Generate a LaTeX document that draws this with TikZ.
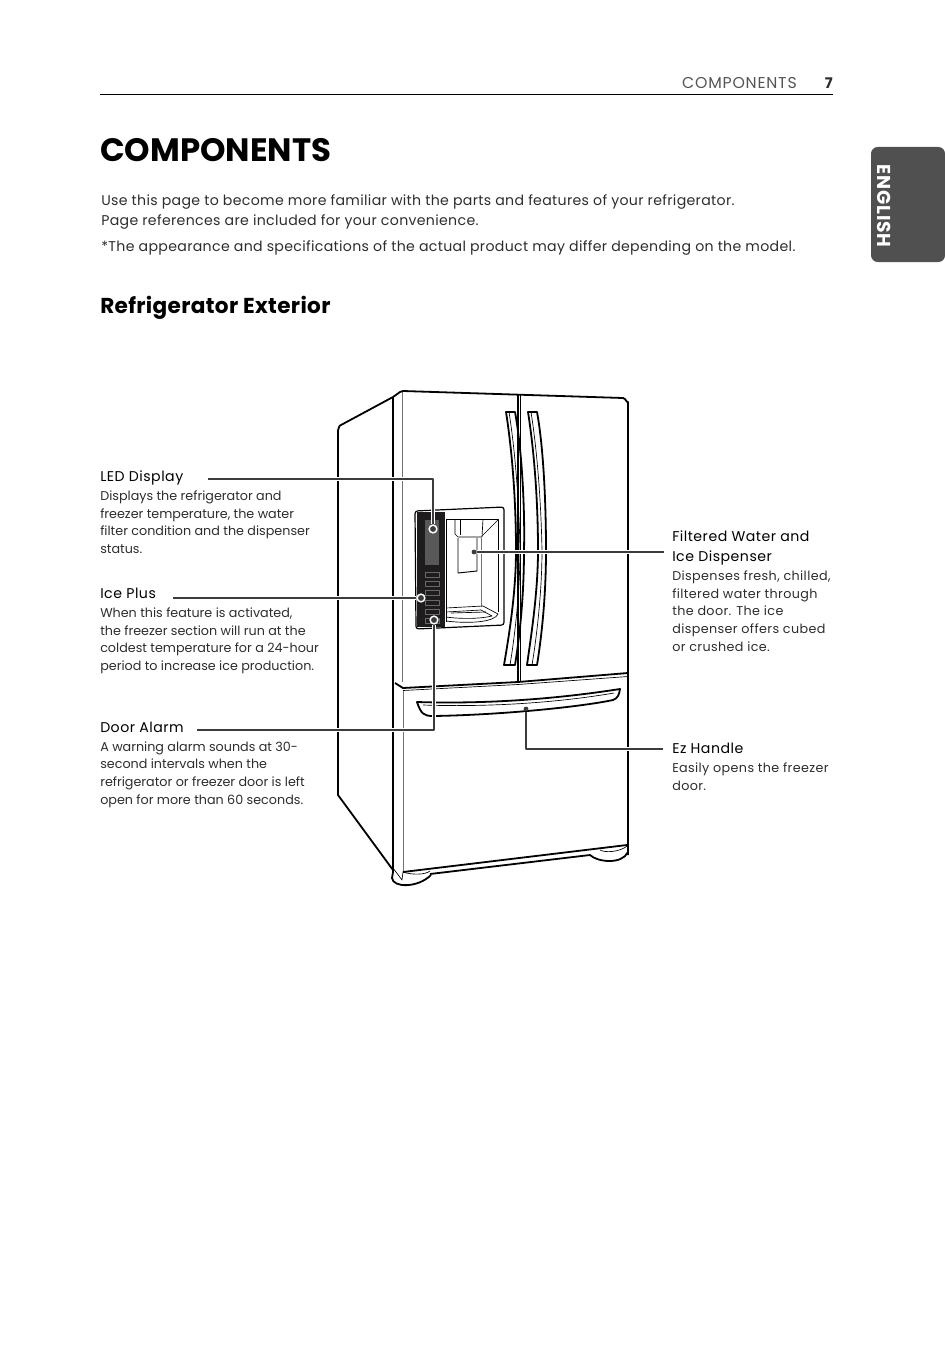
\documentclass[tikz,border=0pt]{standalone}
\usepackage{fontspec}
\setmainfont{Poppins}
\usepackage{tikz}
\usetikzlibrary{positioning,calc}
\definecolor{lggray}{RGB}{85,85,85}
\definecolor{lgtab}{RGB}{80,80,80}
\definecolor{lgtext}{RGB}{45,45,45}
\definecolor{lgleader}{RGB}{60,60,60}
\definecolor{lgpanel}{RGB}{30,28,28}
\definecolor{lgscreen}{RGB}{88,88,88}
\definecolor{lgkey}{RGB}{105,105,105}

\begin{document}
\begin{tikzpicture}[
  x=0.75pt, y=-0.75pt,
  line join=round,
  bodytext/.style={anchor=base west, inner sep=0pt, font=\fontsize{10.6}{15}\selectfont\addfontfeature{LetterSpace=2.3}, text=lgtext},
  calltitle/.style={anchor=base west, inner sep=0pt, font=\fontsize{10.6}{15}\selectfont\addfontfeature{LetterSpace=3.5}, text=black},
  calltext/.style={anchor=north west, inner sep=0pt, align=left, font=\fontsize{9.55}{13.25}\selectfont, text=lgtext},
  calltextwide/.style={calltext, font=\fontsize{9.55}{13.25}\selectfont\addfontfeature{LetterSpace=3}},
  outline/.style={draw=black, line width=1.35pt},
  thinline/.style={draw=black, line width=0.5pt},
  grayline/.style={draw=black!55, line width=0.6pt},
  leader/.style={draw=lgleader, line width=1pt, preaction={draw=white, line width=2.6pt}},
  spotring/.style={circle, draw=white, line width=1.1pt, fill=lgleader, minimum size=5.8pt, inner sep=0pt},
  spotdot/.style={circle, fill=lgleader, minimum size=3.6pt, inner sep=0pt},
  keybox/.style={draw=lgkey, line width=0.5pt}
]
\useasboundingbox (0,0) rectangle (945,1359);

% Page header
\draw[line width=0.6pt] (100,94) -- (833,94);
\node[anchor=base east, inner sep=0pt, font=\fontsize{11.8}{14}\selectfont\addfontfeature{LetterSpace=5}, text=lggray] (runhead) at (797,89) {COMPONENTS};
\node[anchor=base east, inner sep=0pt, font=\fontsize{11}{14}\selectfont\bfseries, text=lgtext] (pagenum) at (833,89) {7};

% Language tab
\fill[lgtab, rounded corners=5pt] (945,147) -- (871,147) -- (871,262) -- (945,262) -- cycle;
\node[rotate=-90, inner sep=0pt, font=\fontsize{14}{15}\selectfont\bfseries\addfontfeature{LetterSpace=4}, text=white] (langtab) at (884,206) {ENGLISH};

% Headings and intro
\node[anchor=base west, inner sep=0pt, font=\fontsize{24.3}{26}\selectfont\bfseries] (mainhead) at (100,161.5) {COMPONENTS};
\node[bodytext] (intro1) at (101,205.5) {Use this page to become more familiar with the parts and features of your refrigerator.};
\node[bodytext] (intro2) at (101,225.5) {Page references are included for your convenience.};
\node[bodytext] (intro3) at (101,251.5) {*The appearance and specifications of the actual product may differ depending on the model.};
\node[anchor=base west, inner sep=0pt, font=\fontsize{16.2}{18}\selectfont\bfseries\addfontfeature{LetterSpace=1.5}] (subhead) at (100,313) {Refrigerator Exterior};

% Cabinet side
\draw[outline] (393,397) -- (341,425) to[out=160,in=-90] (338,430) -- (338,795) -- (393,870);
\draw[outline] (393,397) -- (393,872);
\draw[grayline] (402,392) -- (402,682);
\draw[grayline] (403,690) -- (403,872);

% Upper doors
\draw[outline] (393,397) -- (400,392) -- (403,391) -- (623,398) to[out=0,in=-90] (628,402) -- (628,855);
\draw[outline] (518,394) -- (518,682);
\draw[thinline] (520.5,394) -- (520.5,681);
\draw[outline] (395,683) -- (403,688) -- (518,682) -- (628,673);
\draw[thinline] (403,690.5) -- (518,684.5) -- (628,676.5);

% Door handles
\draw[outline] (506,412) -- (515,412) .. controls (522,450) and (525,510) .. (524,550) .. controls (524,600) and (519,640) .. (515,665) -- (504,665) .. controls (510,630) and (516,590) .. (516,550) .. controls (516,500) and (512,450) .. (506,412) -- cycle;
\draw[thinline] (509,412) .. controls (515,450) and (519,500) .. (520,550) .. controls (520,590) and (515,635) .. (510,665);
\draw[outline] (528,412) -- (537,412) .. controls (544,450) and (546,510) .. (546,550) .. controls (546,600) and (541,640) .. (537,665) -- (527,665) .. controls (532,630) and (538,590) .. (538,550) .. controls (538,500) and (534,450) .. (528,412) -- cycle;
\draw[thinline] (531,412) .. controls (537,450) and (541,500) .. (542,550) .. controls (542,590) and (537,635) .. (532,665);

% Dispenser recess
\draw[line width=0.9pt, rounded corners=2pt] (415,511) -- (504,507) -- (504,625) -- (416,629) -- cycle;
\fill[lgpanel] (417,512) rectangle (445,627);
\fill[lgscreen] (425,520) rectangle (439,565);
\foreach \keyy in {572,581.5,590.5,600,609,618}
  \draw[keybox] (425,\keyy) rectangle (439,\keyy+5);
\draw[thinline] (446,519) -- (498,519) -- (498,612);
\draw[thinline] (446,519) -- (446,622);
\draw[thinline] (455,519) -- (455,534) -- (458,537) -- (482,537) -- (483,519);
\draw[thinline] (460,519) -- (460,535);
\draw[thinline] (482,536) -- (498,520);
\draw[line width=0.7pt] (458,538) -- (458,573) -- (477,571) -- (477,538);
\draw[grayline] (481,538) -- (481,607);
\draw[thinline] (446,608) -- (483,606) -- (498,614) .. controls (495,622) and (470,624) .. (446,621);
\draw[thinline] (446,612) -- (481,610) -- (492,616) .. controls (480,619) and (460,619) .. (446,617);
\draw[thinline] (451,613) -- (486,612);

% Freezer drawer
\draw[outline] (417,702) .. controls (480,704) and (550,700) .. (620,689) .. controls (619,695) and (618,698) .. (613,700) .. controls (580,707) and (500,715) .. (433,716) .. controls (424,716) and (421,714) .. (417,702) -- cycle;
\draw[thinline] (423,705) .. controls (480,707) and (550,704) .. (614,693);

% Base and feet
\draw[outline] (403,872) -- (627,845);
\draw[outline] (430,874) -- (590,855) .. controls (597,862) and (622,865) .. (628,852);
\draw[outline] (393,872) -- (392,878) .. controls (393,888) and (418,888) .. (431,875);
\draw[thinline] (393,868) -- (402,880) -- (403,872);
\draw[thinline] (403,872) .. controls (412,875) and (425,875) .. (430,871);
\draw[thinline] (600,850) .. controls (605,853) and (620,852) .. (627,846);

% Left callouts
\node[calltitle] (ledtitle) at (100,481) {LED Display};
\node[calltext, below=7pt of ledtitle.base west, anchor=north west] (ledtext) {Displays the refrigerator and\\freezer temperature, the water\\filter condition and the dispenser\\status.};
\node[calltitle] (icetitle) at (100,598) {Ice Plus};
\node[calltext, below=7pt of icetitle.base west, anchor=north west] (icetext) {When this feature is activated,\\the freezer section will run at the\\coldest temperature for a 24-hour\\period to increase ice production.};
\node[calltitle] (alarmtitle) at (100,732) {Door Alarm};
\node[calltext, below=7pt of alarmtitle.base west, anchor=north west] (alarmtext) {A warning alarm sounds at 30-\\second intervals when the\\refrigerator or freezer door is left\\open for more than 60 seconds.};

% Right callouts
\node[calltitle] (watertitle) at (672,541) {Filtered Water and};
\node[calltitle] (watertitle2) at (672,561) {Ice Dispenser};
\node[calltextwide, below=7pt of watertitle2.base west, anchor=north west] (watertext) {Dispenses fresh, chilled,\\filtered water through\\the door. The ice\\dispenser offers cubed\\or crushed ice.};
\node[calltitle] (eztitle) at (672,753) {Ez Handle};
\node[calltextwide, below=7pt of eztitle.base west, anchor=north west] (eztext) {Easily opens the freezer\\door.};

% Leader lines
\coordinate (ledstart) at (208,479);
\coordinate (icestart) at (173,598);
\coordinate (alarmstart) at (197,730);
\coordinate (waterstart) at (664,552);
\coordinate (ezstart) at (663,749);
\node[spotring] (ledspot) at (433,529) {};
\node[spotring] (icespot) at (421,598) {};
\node[spotring] (alarmspot) at (434,620) {};
\node[spotdot] (waterspot) at (474,552) {};
\node[spotdot] (ezspot) at (526,709) {};
\draw[leader] (ledstart) -| (ledspot);
\draw[leader] (icestart) -- (icespot);
\draw[leader] (alarmstart) -| (alarmspot);
\draw[leader] (waterstart) -- (waterspot);
\draw[leader] (ezstart) -| (ezspot);

\end{tikzpicture}
\end{document}
